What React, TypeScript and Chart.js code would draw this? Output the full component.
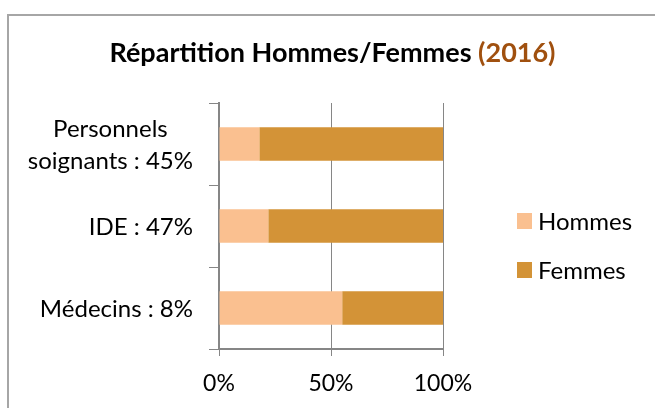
import React, { useEffect, useRef } from "react";
import { Chart, registerables } from "chart.js";

Chart.register(...registerables);

const categories: (string | string[])[] = [["Personnels", "soignants : 45%"], "IDE : 47%", "Médecins : 8%"];
const hommes = [18, 22, 55];
const femmes = [82, 78, 45];
const xTicks = [0, 50, 100];
const titleMain = "Répartition Hommes/Femmes ";
const titleYear = "(2016)";

const FONT = "Lato";
const AXIS = "#868686";

const titlePlugin = {
  id: "twoColorTitle",
  afterDraw(chart: any) {
    const ctx = chart.ctx;
    ctx.save();
    ctx.font = `bold 27px ${FONT}`;
    ctx.textBaseline = "alphabetic";
    ctx.textAlign = "left";
    const w1 = ctx.measureText(titleMain).width;
    const w2 = ctx.measureText(titleYear).width;
    const cx = 332.5;
    const x0 = cx - (w1 + w2) / 2;
    ctx.fillStyle = "#000000";
    ctx.fillText(titleMain, x0, 62);
    ctx.fillStyle = "#A0500F";
    ctx.fillText(titleYear, x0 + w1, 62);
    ctx.restore();
  },
};

// Category labels: each block right-aligned next to the axis, lines centred inside the block
const yLabelPlugin = {
  id: "blockLabels",
  afterDraw(chart: any) {
    const ctx = chart.ctx;
    const scale = chart.scales.y;
    const labels = chart.data.labels as (string | string[])[];
    ctx.save();
    ctx.font = `24px ${FONT}`;
    ctx.fillStyle = "#000000";
    ctx.textAlign = "center";
    ctx.textBaseline = "alphabetic";
    const right = scale.right - 26;
    const lineGap = 32;
    const capHalf = 8.5;
    labels.forEach((lab, i) => {
      const lines = Array.isArray(lab) ? lab : [lab];
      const maxW = Math.max(...lines.map((l) => ctx.measureText(l).width));
      const cx = right - maxW / 2;
      const cy = scale.getPixelForTick(i);
      lines.forEach((l, k) => {
        ctx.fillText(l, cx, cy + capHalf + (k - (lines.length - 1) / 2) * lineGap);
      });
    });
    ctx.restore();
  },
};

const legendPlugin = {
  id: "sideLegend",
  afterDraw(chart: any) {
    const ctx = chart.ctx;
    ctx.save();
    ctx.font = `24px ${FONT}`;
    ctx.textBaseline = "middle";
    ctx.textAlign = "left";
    chart.data.datasets.forEach((ds: any, i: number) => {
      const cy = 221 + i * 49;
      ctx.fillStyle = ds.backgroundColor;
      ctx.fillRect(517, cy - 8, 15, 16);
      ctx.fillStyle = "#000000";
      ctx.fillText(ds.label, 538, cy + 1);
    });
    ctx.restore();
  },
};

export default function App() {
  const ref = useRef<HTMLCanvasElement | null>(null);
  useEffect(() => {
    if (!ref.current) return;
    const chart = new Chart(ref.current, {
      type: "bar",
      data: {
        labels: categories,
        datasets: [
          { label: "Hommes", data: hommes, backgroundColor: "#FAC090", barPercentage: 0.41, categoryPercentage: 1 },
          { label: "Femmes", data: femmes, backgroundColor: "#D39337", barPercentage: 0.41, categoryPercentage: 1 },
        ],
      },
      options: {
        indexAxis: "y",
        responsive: false,
        animation: false,
        layout: { padding: { top: 103, left: 0, right: 212, bottom: 0 } },
        plugins: { legend: { display: false }, title: { display: false }, tooltip: { enabled: false } },
        scales: {
          x: {
            stacked: true,
            min: 0,
            max: 100,
            afterBuildTicks: (s: any) => {
              s.ticks = xTicks.map((v) => ({ value: v }));
            },
            afterFit: (s: any) => {
              s.height = 59;
            },
            ticks: {
              callback: (v: any) => `${v}%`,
              font: { family: FONT, size: 23 },
              color: "#000000",
              padding: 14,
              maxRotation: 0,
            },
            grid: { color: AXIS, lineWidth: 1, tickLength: 7, drawTicks: true },
            border: { color: AXIS, width: 2 },
          },
          y: {
            stacked: true,
            afterFit: (s: any) => {
              s.width = 219;
            },
            ticks: { display: false },
            grid: { drawOnChartArea: false, drawTicks: true, tickLength: 10, color: AXIS, lineWidth: 1 },
            border: { color: AXIS, width: 2 },
          },
        },
      },
      plugins: [titlePlugin, yLabelPlugin, legendPlugin],
    });
    return () => chart.destroy();
  }, []);

  return (
    <div style={{ position: "fixed", left: 0, top: 0, width: 655, height: 408, background: "#fff" }}>
      <div
        style={{
          position: "absolute",
          left: 7,
          top: 14,
          width: 700,
          height: 500,
          borderTop: "2px solid #A6A6A6",
          borderLeft: "2px solid #A6A6A6",
          boxSizing: "border-box",
        }}
      />
      <canvas ref={ref} width={655} height={408} style={{ position: "absolute", left: 0, top: 0 }} />
    </div>
  );
}
